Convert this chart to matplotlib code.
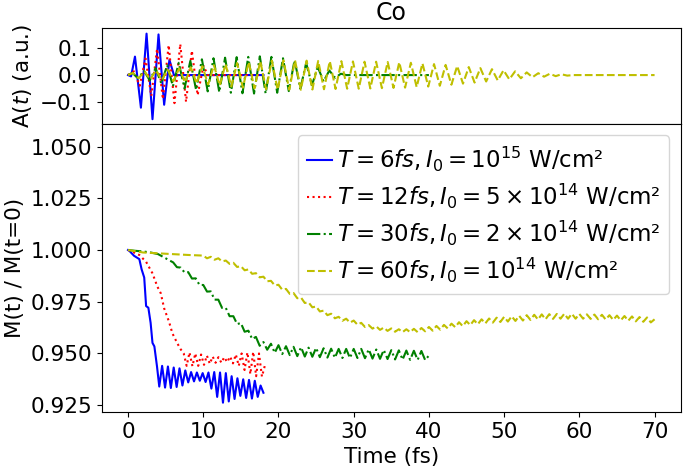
import matplotlib
matplotlib.use("Agg")
import matplotlib.pyplot as plt

plt.rcParams["font.size"] = 15.5

# ---- top panel: vector potential A(t), extrema ----
blue_t = [0, 0.4, 0.92, 1.71, 2.46, 3.25, 4.05, 4.8, 5.5, 6.1, 18]
blue_A = [0, -0.005, 0.069, -0.122, 0.155, -0.165, 0.152, -0.111, 0.057, 0, 0]

red_t = [0, 0.78, 1.55, 2.32, 3.09, 3.86, 4.63, 5.40, 6.17, 6.94, 7.71, 8.48,
         9.25, 10.02, 10.6, 18]
red_A = [0, 0.014, -0.04, 0.062, -0.078, 0.098, -0.09, 0.112, -0.105, 0.116,
         -0.1, 0.091, -0.075, 0.035, 0, 0]

green_t = [0, 0.58, 1.35, 2.12, 2.89, 3.66, 4.43, 5.2, 5.97, 6.74, 7.51, 8.28,
           9.05, 9.82, 10.59, 11.36, 12.13, 12.9, 13.67, 14.44, 15.21, 15.98,
           16.75, 17.52, 18.29, 19.06, 19.83, 20.6, 21.37, 22.14, 22.91, 23.68,
           24.45, 25.22, 25.99, 26.76, 27.53, 28.3, 29.0, 40]
green_A = [0, 0.008, -0.012, 0.016, -0.02, 0.026, -0.032, 0.037, -0.042, 0.046,
           -0.05, 0.053, -0.056, 0.059, -0.061, 0.063, -0.064, 0.065, -0.066,
           0.067, -0.068, 0.068, -0.069, 0.07, -0.069, 0.068, -0.066, 0.063,
           -0.06, 0.056, -0.051, 0.045, -0.038, 0.031, -0.024, 0.017, -0.01,
           0.005, 0, 0]

yellow_t = [0, 0.64, 1.41, 2.18, 2.95, 3.72, 4.49, 5.26, 6.03, 6.8, 7.57, 8.34,
            9.11, 9.88, 10.65, 11.42, 12.19, 12.96, 13.73, 14.5, 15.27, 16.04,
            16.81, 17.58, 18.35, 19.12, 19.89, 20.66, 21.43, 22.2, 22.97, 23.74,
            24.51, 25.28, 26.05, 26.82, 27.59, 28.36, 29.13, 29.9, 30.67, 31.44,
            32.21, 32.98, 33.75, 34.52, 35.29, 36.06, 36.83, 37.6, 38.37, 39.14,
            39.91, 40.68, 41.45, 42.22, 42.99, 43.76, 44.53, 45.3, 46.07, 46.84,
            47.61, 48.38, 49.15, 49.92, 50.69, 51.46, 52.23, 53.0, 53.77, 54.54,
            55.31, 56.08, 56.85, 57.62, 58.39, 59.2, 70]
yellow_A = [0, 0.008, -0.012, 0.014, -0.016, 0.018, -0.019, 0.021, -0.023, 0.025,
            -0.027, 0.029, -0.031, 0.033, -0.035, 0.037, -0.039, 0.041, -0.043,
            0.045, -0.047, 0.049, -0.05, 0.052, -0.053, 0.054, -0.055, 0.055,
            -0.055, 0.055, -0.055, 0.054, -0.054, 0.053, -0.053, 0.052, -0.052,
            0.052, -0.051, 0.051, -0.051, 0.05, -0.05, 0.05, -0.049, 0.049,
            -0.048, 0.048, -0.047, 0.046, -0.045, 0.044, -0.043, 0.041, -0.04,
            0.038, -0.036, 0.034, -0.032, 0.03, -0.028, 0.026, -0.024, 0.022,
            -0.02, 0.018, -0.016, 0.014, -0.012, 0.01, -0.008, 0.007, -0.006,
            0.005, -0.004, 0.003, -0.002, 0, 0]

# ---- bottom panel: M(t)/M(0) ----
blue_mt = [0, 0.2, 0.8, 1.5, 1.8, 2.15, 2.4, 2.7, 3.0, 3.25, 3.5, 3.85,
           4.15, 4.53, 4.92, 5.3, 5.69, 6.07, 6.46, 6.84, 7.23, 7.61, 8.0, 8.38,
           8.77, 9.15, 9.54, 9.92, 10.31, 10.69, 11.08, 11.46, 11.85, 12.23,
           12.62, 13.0, 13.39, 13.77, 14.16, 14.54, 14.93, 15.31, 15.7, 16.08,
           16.47, 16.85, 17.24, 17.62, 18.0]
blue_m = [1.0, 0.9995, 0.9972, 0.9956, 0.9907, 0.9867, 0.9729, 0.9721, 0.9648,
          0.9551, 0.9534, 0.9437,
          0.9340, 0.9440, 0.9335, 0.9437, 0.9333, 0.9432, 0.9338, 0.9428, 0.9345,
          0.9418, 0.9360, 0.9410, 0.9365, 0.9408, 0.9368, 0.9405, 0.9362, 0.9408,
          0.9330, 0.9410, 0.9290, 0.9408, 0.9262, 0.9405, 0.9268, 0.9390, 0.9280,
          0.9380, 0.9295, 0.9375, 0.9285, 0.9372, 0.9282, 0.9368, 0.9290, 0.9345,
          0.9310]

red_mt = [0, 0.2, 1.5, 2.4, 3.25, 3.9, 4.35, 4.8, 5.45, 5.9, 6.55, 7.0,
          7.4, 7.79, 8.17, 8.56, 8.94, 9.33, 9.71, 10.1, 10.48, 10.87, 11.25,
          11.64, 12.02, 12.41, 12.79, 13.18, 13.56, 13.95, 14.33, 14.72, 15.1,
          15.49, 15.87, 16.26, 16.64, 17.03, 17.41, 17.8, 18.18]
red_m = [1.0, 0.9998, 0.9976, 0.9943, 0.9887, 0.9823, 0.9791, 0.9718, 0.9653,
         0.9597, 0.9549, 0.9520,
         0.9500, 0.9440, 0.9505, 0.9438, 0.9500, 0.9440, 0.9495, 0.9445, 0.9490,
         0.9450, 0.9485, 0.9455, 0.9482, 0.9455, 0.9482, 0.9458, 0.9485, 0.9452,
         0.9495, 0.9440, 0.9500, 0.9420, 0.9505, 0.9400, 0.9508, 0.9390, 0.9500,
         0.9388, 0.9440]

green_mt = [0, 1, 2, 3, 4, 5,
            6.0, 6.5, 7.0, 7.5, 8.0, 8.5, 9.0, 9.5, 10.0, 10.5, 11.0, 11.5,
            12.0, 12.5, 13.0, 13.5, 14.0, 14.5, 15.0, 15.5, 16.0, 16.5, 17.0,
            17.5, 18.0, 18.5, 19.0, 19.5, 20.0, 20.5, 21.0, 21.5, 22.0, 22.5,
            23.0, 23.5, 24.0, 24.5, 25.0, 25.5, 26.0, 26.5, 27.0, 27.5, 28.0,
            28.5, 29.0, 29.5, 30.0, 30.5, 31.0, 31.5, 32.0, 32.5, 33.0, 33.5,
            34.0, 34.5, 35.0, 35.5, 36.0, 36.5, 37.0, 37.5, 38.0, 38.5, 39.0,
            39.5, 40.0]
green_m = [1.0, 0.9996, 0.9993, 0.9988, 0.998, 0.996,
           0.9940, 0.9917, 0.9915, 0.9892, 0.9893, 0.9862, 0.9863, 0.9831,
           0.9831, 0.9799, 0.9800, 0.9760, 0.9760, 0.9720, 0.9720, 0.9680,
           0.9680, 0.9642, 0.9647, 0.9605, 0.9610, 0.9570, 0.9580, 0.9537,
           0.9555, 0.9518, 0.9547, 0.9503, 0.9540, 0.9497, 0.9535, 0.9492,
           0.9532, 0.9487, 0.9530, 0.9485, 0.9528, 0.9484, 0.9527, 0.9482,
           0.9525, 0.9480, 0.9523, 0.9479, 0.9522, 0.9478, 0.9522, 0.9478,
           0.9522, 0.9478, 0.9522, 0.9477, 0.9520, 0.9475, 0.9519, 0.9474,
           0.9517, 0.9473, 0.9516, 0.9471, 0.9515, 0.9470, 0.9514, 0.9469,
           0.9513, 0.9469, 0.9512, 0.9468, 0.9490]

yellow_mt = [0, 2, 4, 6, 8,
             10.0, 10.5, 11.0, 11.5, 12.0, 12.5, 13.0, 13.5, 14.0, 14.5, 15.0,
             15.5, 16.0, 16.5, 17.0, 17.5, 18.0, 18.5, 19.0, 19.5, 20.0, 20.5,
             21.0, 21.5, 22.0, 22.5, 23.0, 23.5, 24.0, 24.5, 25.0, 25.5, 26.0,
             26.5, 27.0, 27.5, 28.0, 28.5, 29.0, 29.5, 30.0, 30.5, 31.0, 31.5,
             32.0, 32.5, 33.0, 33.5, 34.0, 34.5, 35.0, 35.5, 36.0, 36.5, 37.0,
             37.5, 38.0, 38.5, 39.0, 39.5, 40.0, 40.5, 41.0, 41.5, 42.0, 42.5,
             43.0, 43.5, 44.0, 44.5, 45.0, 45.5, 46.0, 46.5, 47.0, 47.5, 48.0,
             48.5, 49.0, 49.5, 50.0, 50.5, 51.0, 51.5, 52.0, 52.5, 53.0, 53.5,
             54.0, 54.5, 55.0, 55.5, 56.0, 56.5, 57.0, 57.5, 58.0, 58.5, 59.0,
             59.5, 60.0, 60.5, 61.0, 61.5, 62.0, 62.5, 63.0, 63.5, 64.0, 64.5,
             65.0, 65.5, 66.0, 66.5, 67.0, 67.5, 68.0, 68.5, 69.0, 69.5, 70.0]
yellow_m = [1.0, 0.9988, 0.9984, 0.998, 0.9976,
            0.9973, 0.9960, 0.9967, 0.9953, 0.9960, 0.9945, 0.9949, 0.9933,
            0.9938, 0.9918, 0.9922, 0.9902, 0.9906, 0.9885, 0.9888, 0.9868,
            0.9871, 0.9849, 0.9851, 0.9829, 0.9832, 0.9808, 0.9812, 0.9788,
            0.9792, 0.9767, 0.9770, 0.9744, 0.9747, 0.9723, 0.9727, 0.9703,
            0.9707, 0.9685, 0.9692, 0.9670, 0.9677, 0.9658, 0.9668, 0.9649,
            0.9659, 0.9639, 0.9648, 0.9628, 0.9637, 0.9620, 0.9631, 0.9614,
            0.9625, 0.9609, 0.9621, 0.9605, 0.9617, 0.9603, 0.9617, 0.9603,
            0.9619, 0.9603, 0.9623, 0.9607, 0.9628, 0.9610, 0.9633, 0.9615,
            0.9638, 0.9621, 0.9644, 0.9627, 0.9651, 0.9632, 0.9656, 0.9637,
            0.9661, 0.9641, 0.9665, 0.9645, 0.9669, 0.9649, 0.9673, 0.9652,
            0.9677, 0.9654, 0.9680, 0.9657, 0.9682, 0.9659, 0.9685, 0.9662,
            0.9687, 0.9664, 0.9689, 0.9665, 0.9690, 0.9667, 0.9691, 0.9668,
            0.9692, 0.9668, 0.9692, 0.9668, 0.9691, 0.9668, 0.9689, 0.9667,
            0.9688, 0.9665, 0.9687, 0.9664, 0.9685, 0.9662, 0.9683, 0.9660,
            0.9681, 0.9658, 0.9679, 0.9655, 0.9676, 0.9653, 0.9674, 0.9650,
            0.9665]

labels = [r"$T = 6fs, I_0 = 10^{15}$ W/cm²",
          r"$T = 12fs, I_0 = 5\times10^{14}$ W/cm²",
          r"$T = 30fs, I_0 = 2\times10^{14}$ W/cm²",
          r"$T = 60fs, I_0 = 10^{14}$ W/cm²"]

fig = plt.figure(figsize=(6.85, 4.7), dpi=100)
gs = fig.add_gridspec(2, 1, height_ratios=[1, 3], hspace=0,
                      left=0.1485, right=0.994, top=0.9404, bottom=0.1234)
ax1 = fig.add_subplot(gs[0])
ax2 = fig.add_subplot(gs[1], sharex=ax1)

ax1.plot(blue_t, blue_A, "b-")
ax1.plot(red_t, red_A, "r:")
ax1.plot(green_t, green_A, "g-.")
ax1.plot(yellow_t, yellow_A, "y--")
ax1.set_ylim(-0.183, 0.176)
ax1.set_yticks([-0.1, 0.0, 0.1])
ax1.set_ylabel("A($t$) (a.u.)")
ax1.set_title("Co", fontsize=17)
ax1.tick_params(labelbottom=False)

ax2.plot(blue_mt, blue_m, "b-", label=labels[0])
ax2.plot(red_mt, red_m, "r:", label=labels[1])
ax2.plot(green_mt, green_m, "g-.", label=labels[2])
ax2.plot(yellow_mt, yellow_m, "y--", label=labels[3])
ax2.set_ylim(0.9217, 1.0609)
ax2.set_xlim(-3.5, 73.5)
ax2.set_xticks(range(0, 71, 10))
ax2.set_xlabel("Time (fs)")
ax2.set_ylabel("M(t) / M(t=0)")
ax2.legend(loc="upper right", fontsize=16.5, handlelength=1.1,
           handletextpad=0.2, labelspacing=0.35)

fig.savefig("out.png", dpi=100)
